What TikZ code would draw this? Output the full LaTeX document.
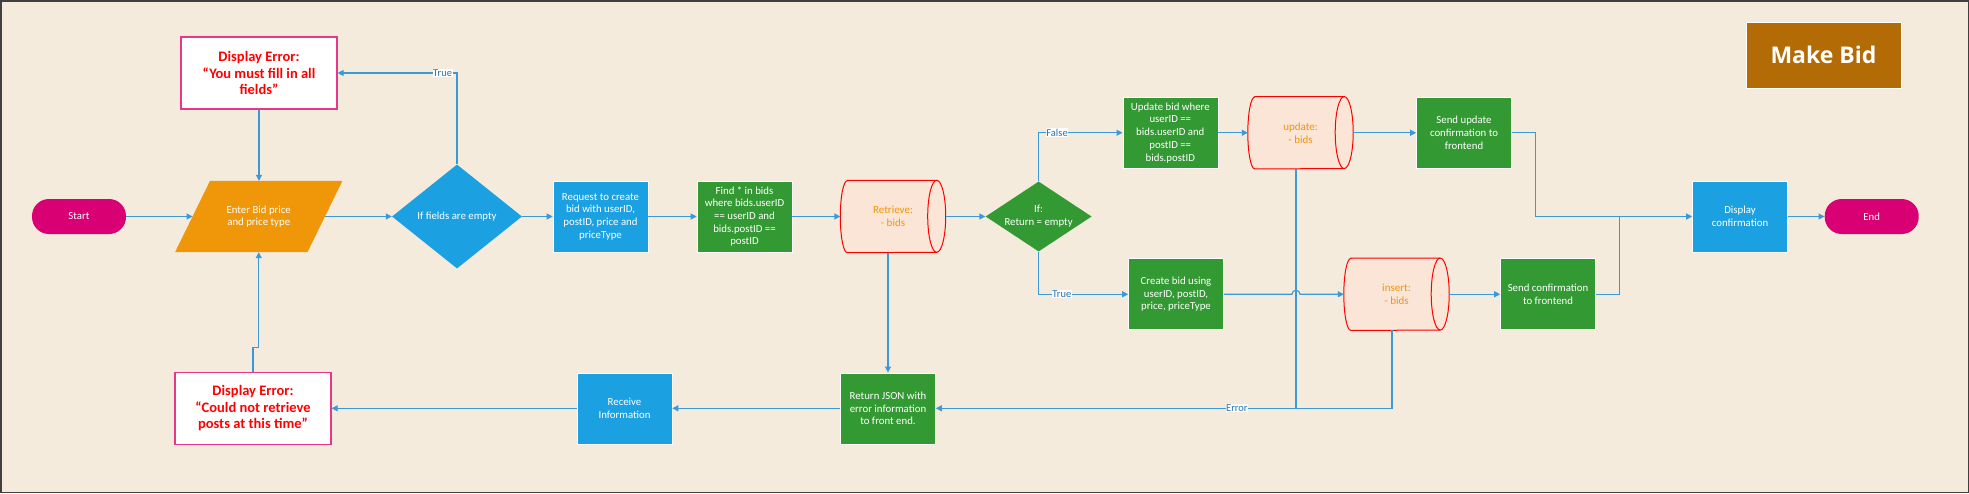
\documentclass[tikz,border=0pt]{standalone}
\usepackage{fontspec}
\setmainfont{Carlito}
\newfontfamily\titlefont{Open Sans}
\usetikzlibrary{arrows.meta,shapes.geometric}
\definecolor{cbg}{HTML}{F4EBDD}
\definecolor{cblue}{HTML}{1BA1E2}
\definecolor{cgreen}{HTML}{339933}
\definecolor{corange}{HTML}{F09609}
\definecolor{cmag}{HTML}{D80073}
\definecolor{cylfill}{HTML}{FBE5D6}
\definecolor{cred}{HTML}{FF0000}
\definecolor{cpink}{HTML}{E6378B}
\definecolor{ctitle}{HTML}{B26B05}
\definecolor{cline}{HTML}{3A9AD9}
\definecolor{clbl}{HTML}{2373B5}
\pgfdeclarelayer{back}
\pgfdeclarelayer{shapes}
\pgfsetlayers{back,shapes,main}
\tikzset{
  box/.style={rectangle, draw=white, line width=0.6pt, text=white, align=center,
    minimum width=95pt, minimum height=71pt, inner sep=1pt},
  bluebox/.style={box, fill=cblue},
  greenbox/.style={box, fill=cgreen},
  term/.style={rectangle, rounded corners=17pt, fill=cmag, text=white,
    minimum width=94pt, minimum height=35pt},
  errbox/.style={rectangle, draw=cpink, line width=1.2pt, fill=white, text=cred,
    font=\fontsize{14.5}{16.5}\selectfont\bfseries, align=center,
    minimum width=156pt, minimum height=72pt},
  cylnode/.style={rectangle, minimum width=105pt, minimum height=72pt, text=corange,
    align=center, inner sep=0pt, font=\fontsize{11}{13}\selectfont},
  decision/.style={diamond, text=white, align=center, inner sep=0pt},
  conn/.style={draw=cline, line width=1.1pt, -{Triangle[length=6pt,width=6pt]}},
  wire/.style={draw=cline, line width=1.1pt},
  lbl/.style={fill=white, text=clbl, inner sep=0.6pt, font=\fontsize{10.5}{12}\selectfont},
  cylshape/.style={draw=cred, line width=1pt},
}
\newcommand\drawcyl[1]{%
  \fill[cylfill] ([xshift=7pt]#1.north west) -- ([xshift=-9pt]#1.north east)
     arc[start angle=-90,end angle=90,x radius=9,y radius=36]
     -- ([xshift=7pt]#1.south west)
     arc[start angle=90,end angle=270,x radius=7,y radius=36] -- cycle;
  \draw[cylshape] ([xshift=7pt]#1.north west) -- ([xshift=-9pt]#1.north east)
     arc[start angle=-90,end angle=90,x radius=9,y radius=36]
     -- ([xshift=7pt]#1.south west)
     arc[start angle=90,end angle=270,x radius=7,y radius=36] -- cycle;
  \draw[cylshape] ([xshift=-9pt]#1.north east)
     arc[start angle=270,end angle=90,x radius=9,y radius=36];
}
\begin{document}
\begin{tikzpicture}[x=1pt,y=-1pt,font=\fontsize{10.8}{12.7}\selectfont]
\useasboundingbox (0,0) rectangle (1969,493);
\begin{pgfonlayer}{back}
  \fill[cbg] (0,0) rectangle (1969,493);
  \draw[line width=1.5pt, black!75] (0.75,0.75) rectangle (1968.25,492.25);
\end{pgfonlayer}

% nodes
\node[term] (start) at (79,216.5) {Start};
\node[rectangle, minimum width=132pt, minimum height=71pt, text=white, align=center, inner sep=0pt]
  (par) at (258.75,216.5) {Enter Bid price\\and price type};
\node[errbox] (err1) at (259,73) {Display Error:\\“You must fill in all\\fields”};
\node[decision, fill=cblue, aspect=1.25, minimum width=130pt, minimum height=104pt]
  (d1) at (457,216.5) {If fields are empty};
\node[bluebox] (req) at (600.5,216.5) {Request to create\\bid with userID,\\postID, price and\\priceType};
\node[greenbox] (find) at (744.5,216.5) {Find * in bids\\where bids.userID\\== userID and\\bids.postID ==\\postID};
\node[cylnode] (ret) at (893,216.5) {Retrieve:\\- bids};
\node[decision, fill=cgreen, aspect=1.5, minimum width=106pt, minimum height=70pt]
  (d2) at (1038.6,216.5) {If:\\Return = empty};
\node[greenbox] (upd) at (1170.3,132.75) {Update bid where\\userID ==\\bids.userID and\\postID ==\\bids.postID};
\node[cylnode] (updcyl) at (1300.5,132.75) {update:\\- bids};
\node[greenbox] (sendupd) at (1464,132.75) {Send update\\confirmation to\\frontend};
\node[greenbox] (create) at (1176,294.25) {Create bid using\\userID, postID,\\price, priceType};
\node[cylnode] (inscyl) at (1396.5,294.25) {insert:\\- bids};
\node[greenbox] (sendconf) at (1548,294.25) {Send confirmation\\to frontend};
\node[bluebox] (disp) at (1740,216.5) {Display\\confirmation};
\node[term] (end) at (1871.7,216.5) {End};
\node[greenbox] (retjson) at (888,408.3) {Return JSON with\\error information\\to front end.};
\node[bluebox] (recv) at (624.5,408.3) {Receive\\Information};
\node[errbox] (err2) at (253,408.3) {Display Error:\\“Could not retrieve\\posts at this time”};
\node[rectangle, fill=ctitle, draw=white, line width=0.6pt, text=white, minimum width=155pt, minimum height=66pt,
  font=\titlefont\fontsize{23}{26}\selectfont\bfseries] (title) at (1823.5,55.3) {Make Bid};

% shapes drawn behind texts
\begin{pgfonlayer}{shapes}
  \fill[corange] ([xshift=17.5pt]par.north west) -- ([xshift=17.5pt]par.north east)
     -- ([xshift=-17.5pt]par.south east) -- ([xshift=-17.5pt]par.south west) -- cycle;
  \drawcyl{ret}
  \drawcyl{updcyl}
  \drawcyl{inscyl}
\end{pgfonlayer}

% helper coordinates
\coordinate (u1) at ([xshift=-4.5pt]updcyl.south);
\coordinate (i1) at ([xshift=-4.5pt]inscyl.south);
\coordinate (hop) at (u1 |- create.east);
\coordinate (j1) at ([xshift=24pt]sendupd.east);
\coordinate (j2) at ([xshift=24pt]sendconf.east);
\coordinate (e2) at ([yshift=24pt]err2.north);

% connectors
\draw[conn] (start.east) -- (par.west);
\draw[conn] (err1.south) -- (err1.south |- par.north);
\draw[conn] (par.east) -- (d1.west);
\draw[conn] (d1.north) |- node[lbl, pos=0.56] {True} (err1.east);
\draw[conn] (d1.east) -- (req.west);
\draw[conn] (req.east) -- (find.west);
\draw[conn] (find.east) -- (ret.west);
\draw[conn] (ret.east) -- (d2.west);
\draw[conn] (retjson.north |- ret.south) -- (retjson.north);
\draw[conn] (d2.north) |- node[lbl, pos=0.61] {False} (upd.west);
\draw[conn] (d2.south) |- node[lbl, pos=0.63] {True} (create.west);
\draw[conn] (upd.east) -- (updcyl.west);
\draw[conn] (updcyl.east) -- (sendupd.west);
\draw[conn] (sendupd.east) -- (j1) |- (disp.west);
\draw[wire] (u1) -- (u1 |- retjson.east);
\draw[conn] (create.east) -- ([xshift=-4pt]hop) arc[start angle=180,end angle=360,radius=4] -- (inscyl.west);
\draw[conn] (inscyl.east) -- (sendconf.west);
\draw[wire] (sendconf.east) -- (j2) -- (j2 |- disp.west);
\draw[conn] (i1) |- node[lbl, pos=0.67] {Error} (retjson.east);
\draw[conn] (retjson.west) -- (recv.east);
\draw[conn] (recv.west) -- (err2.east);
\draw[conn] (err2.north) -- (e2) -| (par.south);
\draw[conn] (disp.east) -- (end.west);
\end{tikzpicture}
\end{document}
